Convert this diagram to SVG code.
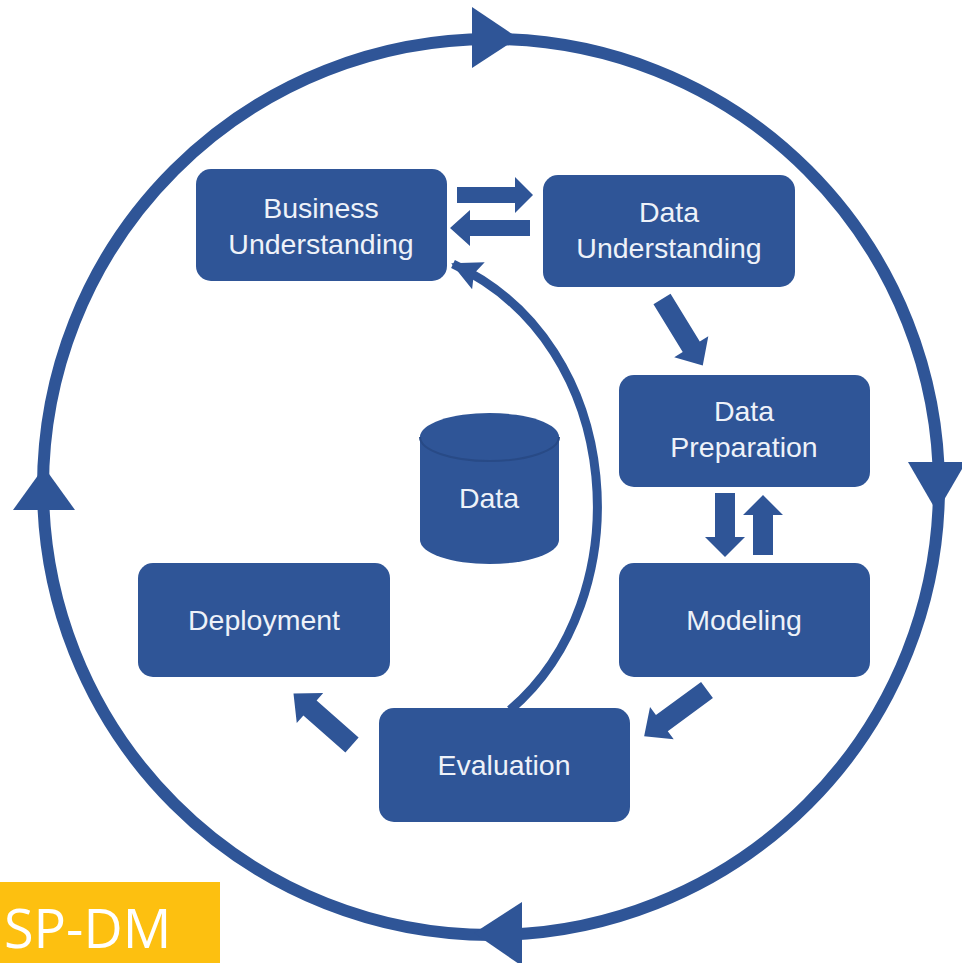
<svg xmlns="http://www.w3.org/2000/svg" width="962" height="963" viewBox="0 0 962 963">
<style>
.box{fill:#2f5597;}
.lbl{font-family:"Liberation Sans",Arial,sans-serif;font-size:28.5px;fill:#eef2f9;text-anchor:middle;}
.blk{fill:#2f5597;}
.ring{fill:none;stroke:#2f5597;stroke-width:12;}
.curve{fill:none;stroke:#2f5597;stroke-width:9;}
</style>
<defs>
<marker id="ah" markerUnits="userSpaceOnUse" markerWidth="40" markerHeight="40" viewBox="-30 -20 40 40" refX="0" refY="0" orient="auto">
<path d="M2,0 L-28,-15 L-23,0 L-28,15 Z" fill="#2f5597"/>
</marker>
<path id="barrow" d="M0,-10 H56 V-20 L78,0 L56,20 V10 H0 Z"/>
</defs>
<rect width="962" height="963" fill="#ffffff"/>
<g id="connectors">
<circle class="ring" cx="491" cy="487" r="448"/>
<polygon class="blk" points="472,7 518,38 472,68"/>
<polygon class="blk" points="908,462 966,462 937,512"/>
<polygon class="blk" points="13,510 75,510 44,467"/>
<polygon class="blk" points="522,902 522,966 474,933"/>
<path class="blk" d="M457,187 H515 V177 L533,195 L515,213 V203 H457 Z"/>
<path class="blk" d="M530,220 H470 V210 L450,228 L470,246 V236 H530 Z"/>
<use href="#barrow" class="blk" transform="translate(662,299) rotate(58.5)"/>
<path class="blk" d="M715,493 V537 H705 L725,557 L745,537 H735 V493 Z"/>
<path class="blk" d="M753,555 V515 H743 L763,495 L783,515 H773 V555 Z"/>
<use href="#barrow" class="blk" transform="translate(707,690) rotate(143.7)"/>
<use href="#barrow" class="blk" transform="translate(352,745) rotate(221.4)"/>
<path class="curve" d="M510,710 C640,600 628,345 453,264" marker-end="url(#ah)"/>
</g>
<g id="business-understanding">
<rect class="box" x="196" y="169" width="251" height="112" rx="15"/>
<text class="lbl" x="321" y="218">Business</text>
<text class="lbl" x="321" y="254">Understanding</text>
</g>
<g id="data-understanding">
<rect class="box" x="543" y="175" width="252" height="112" rx="15"/>
<text class="lbl" x="669" y="222">Data</text>
<text class="lbl" x="669" y="258">Understanding</text>
</g>
<g id="data-preparation">
<rect class="box" x="619" y="375" width="251" height="112" rx="15"/>
<text class="lbl" x="744" y="421">Data</text>
<text class="lbl" x="744" y="457">Preparation</text>
</g>
<g id="modeling">
<rect class="box" x="619" y="563" width="251" height="114" rx="15"/>
<text class="lbl" x="744" y="630">Modeling</text>
</g>
<g id="evaluation">
<rect class="box" x="379" y="708" width="251" height="114" rx="15"/>
<text class="lbl" x="504" y="775">Evaluation</text>
</g>
<g id="deployment">
<rect class="box" x="138" y="563" width="252" height="114" rx="15"/>
<text class="lbl" x="264" y="630">Deployment</text>
</g>
<g id="data">
<path class="box" d="M420,437 A69.5,24 0 0 1 559,437 V540 A69.5,24 0 0 1 420,540 Z"/>
<path d="M420,437 A69.5,24 0 0 0 559,437" fill="none" stroke="#284a86" stroke-width="2"/>
<text class="lbl" x="489" y="508">Data</text>
</g>
<g id="sp-dm">
<rect x="0" y="882" width="220" height="81" fill="#fdc010"/>
<text x="4" y="948" font-family="'Open Sans','Noto Sans',sans-serif" font-size="54" fill="#ffffff">SP-DM</text>
</g>
</svg>
